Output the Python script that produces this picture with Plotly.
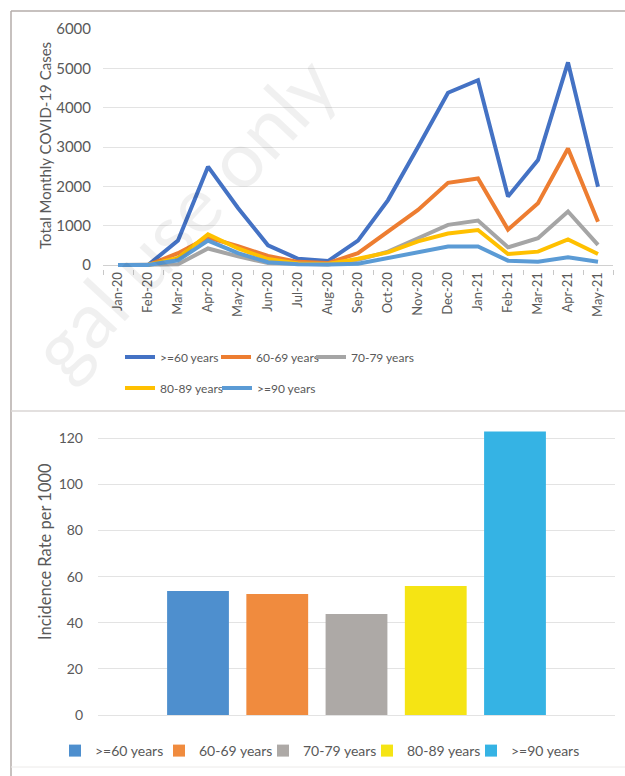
import plotly.graph_objects as go

months = ["Jan-20", "Feb-20", "Mar-20", "Apr-20", "May-20", "Jun-20", "Jul-20", "Aug-20",
          "Sep-20", "Oct-20", "Nov-20", "Dec-20", "Jan-21", "Feb-21", "Mar-21", "Apr-21", "May-21"]

cases_60plus = [0, 0, 620, 2500, 1450, 500, 160, 100, 620, 1650, 3000, 4380, 4700, 1740, 2670, 5150, 1990]
cases_60_69 = [0, 0, 300, 700, 480, 230, 80, 50, 300, 850, 1400, 2090, 2200, 900, 1570, 2960, 1100]
cases_70_79 = [0, 0, 20, 420, 220, 50, 20, 15, 130, 340, 680, 1020, 1130, 450, 680, 1360, 510]
cases_80_89 = [0, 0, 180, 780, 420, 150, 40, 25, 160, 320, 600, 800, 890, 280, 340, 650, 280]
cases_90plus = [0, 0, 120, 620, 300, 70, 20, 10, 30, 170, 320, 470, 470, 110, 85, 195, 85]

age_groups = [">=60 years", "60-69 years", "70-79 years", "80-89 years", ">=90 years"]
incidence_rate = [53.8, 52.5, 43.8, 55.9, 122.9]

line_colors = ["#4472C4", "#ED7D31", "#A5A5A5", "#FFC000", "#5B9BD5"]
bar_colors = ["#4E8FCE", "#F08B3E", "#ADA9A6", "#F5E414", "#35B3E4"]

W, H = 625, 776
FONT = "Lato"
TXT = "#595959"

def px_x(p):
    return p / W

def px_y(p):
    return 1 - p / H

fig = go.Figure()

series = [cases_60plus, cases_60_69, cases_70_79, cases_80_89, cases_90plus]
legend_ids = ["legend", "legend", "legend", "legend2", "legend2"]
legend_w = [51, 50, 75, 52, 75]
for name, vals, col, lg, lw in zip(age_groups, series, line_colors, legend_ids, legend_w):
    fig.add_trace(go.Scatter(x=months, y=vals, name=name, mode="lines",
                             line=dict(color=col, width=4), xaxis="x", yaxis="y",
                             legend=lg, legendwidth=lw))

bar_lw = [59, 59, 59, 59, 80]
for name, val, col, lw in zip(age_groups, incidence_rate, bar_colors, bar_lw):
    fig.add_trace(go.Bar(x=[name], y=[val], name=name, marker=dict(color=col, line=dict(width=0)),
                         width=0.78, xaxis="x2", yaxis="y2", legend="legend3", legendwidth=lw))

# top chart axes: 6000 at y=29px, 0 at y=265px
ppu = (265 - 29) / 6000
ymin_top = -90
fig.update_layout(
    width=W, height=H, autosize=False,
    margin=dict(l=0, r=0, t=0, b=0, pad=0, autoexpand=False),
    paper_bgcolor="white", plot_bgcolor="white",
    font=dict(family=FONT, size=13, color=TXT),
    barmode="overlay",
    showlegend=True,
    xaxis=dict(domain=[px_x(103), px_x(613)], anchor="y", type="category",
               categoryorder="array", categoryarray=months, range=[-0.5, 16.5],
               tickangle=-90, showgrid=False, showline=False, zeroline=False,
               ticks="outside", tickson="boundaries", ticklen=5, tickcolor="#C8C8C8",
               tickfont=dict(size=13, color=TXT), automargin=False),
    yaxis=dict(domain=[px_y(265 + (0 - ymin_top) * ppu), px_y(29)], anchor="x",
               range=[ymin_top, 6000], tickvals=[0, 1000, 2000, 3000, 4000, 5000, 6000],
               showgrid=True, gridcolor="#E3E3E3", gridwidth=1,
               zeroline=True, zerolinecolor="#D0D0D0", zerolinewidth=1,
               showline=False, ticks="", ticklabelstandoff=11,
               tickfont=dict(size=15, color=TXT), automargin=False),
    xaxis2=dict(domain=[px_x(98), px_x(615)], anchor="y2", type="category",
                categoryorder="array", categoryarray=age_groups,
                range=[-1.262, 5.262], showticklabels=False, showgrid=False,
                showline=False, zeroline=False, ticks="", automargin=False),
    yaxis2=dict(domain=[px_y(715), px_y(715 - 125 * (715 - 438.3) / 120)], anchor="x2",
                range=[0, 125], tickvals=[0, 20, 40, 60, 80, 100, 120],
                showgrid=True, gridcolor="#E3E3E3", gridwidth=1,
                zeroline=True, zerolinecolor="#E3E3E3", zerolinewidth=1,
                showline=False, ticks="", ticklabelstandoff=14,
                tickfont=dict(size=14, color=TXT), automargin=False),
    legend=dict(orientation="h", x=px_x(120), xanchor="left", y=px_y(357), yanchor="middle",
                bgcolor="rgba(0,0,0,0)", entrywidthmode="pixels",
                font=dict(size=12, color=TXT), itemwidth=30),
    legend2=dict(orientation="h", x=px_x(120), xanchor="left", y=px_y(388), yanchor="middle",
                 bgcolor="rgba(0,0,0,0)", entrywidthmode="pixels",
                 font=dict(size=12, color=TXT), itemwidth=30),
    legend3=dict(orientation="h", x=px_x(55), xanchor="left", y=px_y(751), yanchor="middle",
                 bgcolor="rgba(0,0,0,0)", entrywidthmode="pixels",
                 font=dict(size=14, color=TXT), itemwidth=30),
)

# axis titles
fig.add_annotation(text="Total Monthly COVID-19 Cases", xref="paper", yref="paper",
                   x=px_x(45), y=px_y(146), textangle=-90, showarrow=False,
                   font=dict(size=15, color=TXT), xanchor="center", yanchor="middle")
fig.add_annotation(text="Incidence Rate per 1000", xref="paper", yref="paper",
                   x=px_x(45), y=px_y(552), textangle=-90, showarrow=False,
                   font=dict(size=16.5, color=TXT), xanchor="center", yanchor="middle")

# watermark
fig.add_annotation(text="gal use only", xref="paper", yref="paper",
                   x=px_x(182), y=px_y(216), textangle=-47, showarrow=False,
                   font=dict(size=78, color="rgba(0,0,0,0.06)", family=FONT),
                   xanchor="center", yanchor="middle")

# frame lines
frame = "#B5ADAA"
fig.add_shape(type="line", xref="paper", yref="paper", x0=px_x(11), x1=1, y0=px_y(11), y1=px_y(11),
              line=dict(color=frame, width=1.5))
fig.add_shape(type="line", xref="paper", yref="paper", x0=px_x(11), x1=px_x(11), y0=px_y(11), y1=0,
              line=dict(color=frame, width=1.5))
fig.add_shape(type="line", xref="paper", yref="paper", x0=px_x(11), x1=1, y0=px_y(411), y1=px_y(411),
              line=dict(color="#DAD6D4", width=1.5))
fig.add_shape(type="line", xref="paper", yref="paper", x0=px_x(11), x1=1, y0=px_y(767), y1=px_y(767),
              line=dict(color="#ECEAE9", width=1))

fig.write_html("out.html")
